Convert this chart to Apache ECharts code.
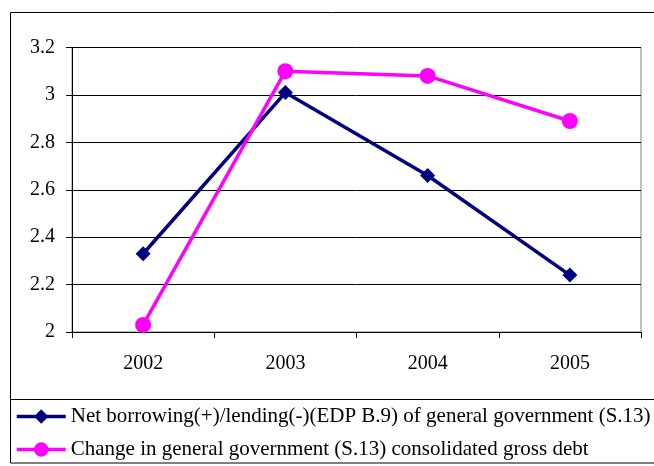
<!DOCTYPE html>
<html>
<head>
<meta charset="utf-8">
<script src="https://cdn.jsdelivr.net/npm/echarts@6/dist/echarts.min.js"></script>
<style>html,body{margin:0;padding:0;background:#fff}#c{width:654px;height:466px}</style>
</head>
<body>
<div id="c"></div>
<script>
var categories = ['2002', '2003', '2004', '2005'];
var netBorrowing = [2.33, 3.01, 2.66, 2.24];
var debtChange = [2.03, 3.10, 3.08, 2.89];
var seriesNames = ['Net borrowing(+)/lending(-)(EDP B.9) of general government (S.13)',
                   'Change in general government (S.13) consolidated gross debt'];

var chart = echarts.init(document.getElementById('c'), null, {renderer: 'canvas'});
var font = 'Liberation Serif';
chart.setOption({
  animation: false,
  backgroundColor: '#fff',
  textStyle: {fontFamily: font},
  grid: {left: 72, top: 47.5, right: 13, bottom: 134, show: true, borderColor: '#808080', borderWidth: 1},
  graphic: [
    {type: 'rect', shape: {x: 10.5, y: 12.5, width: 700, height: 450.5}, style: {fill: 'none', stroke: '#000', lineWidth: 1}, z: 0},
    {type: 'line', shape: {x1: 10, y1: 399.5, x2: 654, y2: 399.5}, style: {stroke: '#000', lineWidth: 1}}
  ],
  legend: {
    orient: 'vertical', left: 15, top: 406, width: 640, height: 60, padding: 0,
    itemWidth: 49, itemHeight: 18, itemGap: 12, itemTextGap: 4,
    lineStyle: {width: 3.5},
    textStyle: {fontFamily: font, fontSize: 21, color: '#000'},
    data: seriesNames
  },
  xAxis: {
    type: 'category', data: categories, boundaryGap: true,
    axisLine: {lineStyle: {color: '#000', width: 1}},
    axisTick: {show: true, length: 6, lineStyle: {color: '#000'}},
    axisLabel: {fontFamily: font, fontSize: 20, color: '#000', margin: 22}
  },
  yAxis: {
    type: 'value', min: 2, max: 3.2, interval: 0.2,
    axisLine: {show: true, lineStyle: {color: '#000', width: 1}},
    axisTick: {show: true, length: 6, lineStyle: {color: '#000'}},
    axisLabel: {fontFamily: font, fontSize: 20, color: '#000', margin: 17},
    splitLine: {show: true, lineStyle: {color: '#000', width: 1}}
  },
  series: [
    {name: seriesNames[0], type: 'line', data: netBorrowing, symbol: 'diamond', symbolSize: 15,
     lineStyle: {color: '#000080', width: 3.5}, itemStyle: {color: '#000080'}},
    {name: seriesNames[1], type: 'line', data: debtChange, symbol: 'circle', symbolSize: 16,
     lineStyle: {color: '#FF00FF', width: 3.5}, itemStyle: {color: '#FF00FF'}}
  ]
});
</script>
</body>
</html>
